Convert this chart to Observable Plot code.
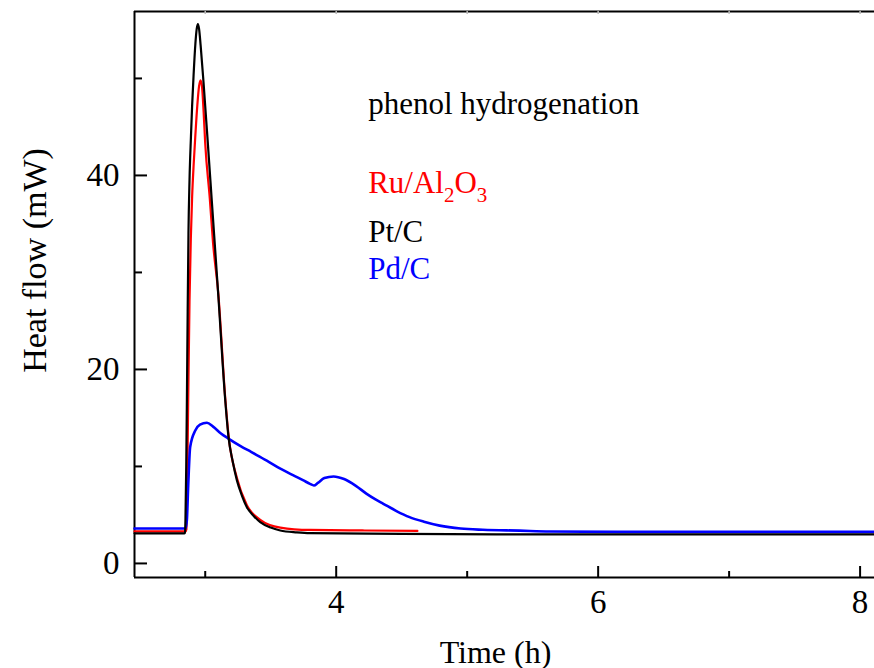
<!DOCTYPE html>
<html>
<head>
<meta charset="utf-8">
<script src="https://cdn.jsdelivr.net/npm/d3@7"></script>
<script src="https://cdn.jsdelivr.net/npm/@observablehq/plot@0.6"></script>
<style>
  body { margin: 0; background: #fff; }
  #chart svg { display: block; }
</style>
</head>
<body>
<div id="chart"></div>
<script>
// ---- data ----
const ptC_time = [2.46, 2.84, 2.845, 2.849, 2.855, 2.86, 2.866, 2.872, 2.88, 2.891, 2.90, 2.911, 2.925, 2.935, 2.944, 2.953, 2.965, 2.987, 3.02, 3.05, 3.10, 3.153, 3.178, 3.21, 3.242, 3.28, 3.318, 3.37, 3.42, 3.5, 3.573, 3.7, 3.8, 4.5, 5.5, 8.11];
const ptC_heat = [3.1, 3.1, 3.15, 4.5, 10, 16.8, 26, 34, 39.5, 44, 47.2, 50.3, 53.6, 55.1, 55.6, 55.1, 53.4, 49.6, 43.3, 37.4, 27.6, 16.8, 13.0, 10.5, 8.56, 7.0, 5.8, 4.9, 4.26, 3.7, 3.4, 3.2, 3.12, 3.05, 3.0, 3.0];

const ru_time = [2.46, 2.85, 2.856, 2.862, 2.870, 2.880, 2.890, 2.900, 2.912, 2.925, 2.94, 2.953, 2.964, 2.975, 2.988, 3.0, 3.035, 3.06, 3.10, 3.153, 3.178, 3.242, 3.318, 3.42, 3.573, 3.8, 4.2, 4.62];
const ru_heat = [3.3, 3.3, 3.5, 8, 16.8, 27, 33.5, 37.8, 41.2, 44.2, 47.3, 49.2, 49.8, 49.2, 46.5, 43.3, 37.6, 33.0, 27.8, 17.0, 13.2, 8.8, 6.0, 4.5, 3.7, 3.45, 3.4, 3.35];

const pd_time = [2.46, 2.85, 2.86, 2.87, 2.885, 2.924, 2.96, 3.013, 3.06, 3.12, 3.18, 3.27, 3.35, 3.47, 3.57, 3.67, 3.75, 3.80, 3.83, 3.86, 3.91, 3.98, 4.06, 4.15, 4.23, 4.30, 4.36, 4.46, 4.56, 4.67, 4.79, 4.95, 5.12, 5.4, 5.63, 6.5, 8.11];
const pd_heat = [3.6, 3.6, 4.5, 8, 12.0, 13.7, 14.3, 14.5, 14.1, 13.4, 12.85, 12.1, 11.5, 10.6, 9.8, 9.1, 8.56, 8.2, 8.04, 8.3, 8.8, 8.97, 8.7, 8.0, 7.2, 6.6, 6.15, 5.4, 4.77, 4.3, 3.9, 3.6, 3.47, 3.38, 3.3, 3.25, 3.25];

const xMajor = [4, 6, 8];
const xMinor = [3, 5, 7];
const yMajor = [0, 20, 40];
const yMinor = [10, 30, 50];

const seriesNames = ["Ru/Al2O3", "Pt/C", "Pd/C"];
const seriesColors = ["#ff0000", "#000000", "#0000ff"];
const annotationTitle = "phenol hydrogenation";
const xLabel = "Time (h)";
const yLabel = "Heat flow (mW)";

// ---- build tables ----
const toRows = (name, xs, ys) => xs.map((t, i) => ({series: name, time: t, heat: ys[i]}));
const ruRows = toRows(seriesNames[0], ru_time, ru_heat);
const ptRows = toRows(seriesNames[1], ptC_time, ptC_heat);
const pdRows = toRows(seriesNames[2], pd_time, pd_heat);

const W = 874, H = 668;
const mL = 134, mT = 11, mB = 91, mR = 0;
const frameW = W - mL - mR, frameH = H - mT - mB;
const xDomain = [2.46, 8.11];
const yDomain = [-1.45, 56.9];

// annotation placement (data units)
const annX = 4.244;
const annY = [46.3, 38.2, 33.1, 29.3];
const annRows = [
  {text: annotationTitle, color: "#000000", y: annY[0]},
  {text: seriesNames[0], color: seriesColors[0], y: annY[1]},
  {text: seriesNames[1], color: seriesColors[1], y: annY[2]},
  {text: seriesNames[2], color: seriesColors[2], y: annY[3]}
];

const FONT = "'Liberation Serif', 'Times New Roman', serif";

const chart = Plot.plot({
  width: W,
  height: H,
  marginLeft: mL,
  marginTop: mT,
  marginBottom: mB,
  marginRight: mR,
  style: {fontFamily: FONT, background: "#fff", overflow: "visible"},
  x: {domain: xDomain},
  y: {domain: yDomain},
  marks: [
    // frame: left, bottom, top
    Plot.ruleX([xDomain[0]], {stroke: "#000", strokeWidth: 2}),
    Plot.ruleY([yDomain[0]], {stroke: "#000", strokeWidth: 2}),
    Plot.ruleY([yDomain[1]], {stroke: "#000", strokeWidth: 2}),
    // inward ticks
    Plot.tickX(xMajor, {insetTop: frameH - 11, stroke: "#000", strokeWidth: 2}),
    Plot.tickX(xMinor, {insetTop: frameH - 6, stroke: "#000", strokeWidth: 2}),
    Plot.tickX(xMajor.concat(xMinor), {insetBottom: frameH - 3, stroke: "#bbb", strokeWidth: 1.5}),
    Plot.tickY(yMajor, {insetRight: frameW - 13, stroke: "#000", strokeWidth: 2}),
    Plot.tickY(yMinor, {insetRight: frameW - 8, stroke: "#000", strokeWidth: 2}),
    // axes labels
    Plot.axisX(xMajor, {tickSize: 0, tickPadding: 12, fontSize: 33, label: null, tickFormat: d => String(d), fill: "#000"}),
    Plot.axisY(yMajor, {tickSize: 0, tickPadding: 15, fontSize: 33, label: null, tickFormat: d => String(d), fill: "#000"}),
    Plot.text([xLabel], {frameAnchor: "bottom", dx: -9, dy: 75, fontSize: 32, lineAnchor: "middle", fill: "#000"}),
    Plot.text([yLabel], {frameAnchor: "left", dx: -99, dy: -34, rotate: -90, fontSize: 34, lineAnchor: "middle", textAnchor: "middle", fill: "#000"}),
    // curves
    Plot.line(ruRows, {x: "time", y: "heat", stroke: seriesColors[0], strokeWidth: 2.2, curve: "monotone-x"}),
    Plot.line(pdRows, {x: "time", y: "heat", stroke: seriesColors[2], strokeWidth: 2.6, curve: "monotone-x"}),
    Plot.line(ptRows, {x: "time", y: "heat", stroke: seriesColors[1], strokeWidth: 2.2, curve: "monotone-x"}),
    // annotations
    Plot.text(annRows, {x: () => annX, y: "y", text: "text", fill: "color", textAnchor: "start", lineAnchor: "bottom", fontSize: 31})
  ]
});

// subscripts for Al2O3
chart.querySelectorAll("text").forEach(t => {
  if (t.textContent === seriesNames[0]) {
    const target = t.querySelector("tspan") || t;
    const ns = "http://www.w3.org/2000/svg";
    target.textContent = "";
    const parts = [["Ru/Al", null], ["2", "sub"], ["O", "up"], ["3", "sub"]];
    parts.forEach(([s, kind]) => {
      const ts = document.createElementNS(ns, "tspan");
      ts.textContent = s;
      if (kind === "sub") { ts.setAttribute("font-size", "21"); ts.setAttribute("dy", "9"); }
      if (kind === "up") { ts.setAttribute("dy", "-9"); }
      target.appendChild(ts);
    });
  }
});

document.getElementById("chart").appendChild(chart);
</script>
</body>
</html>
